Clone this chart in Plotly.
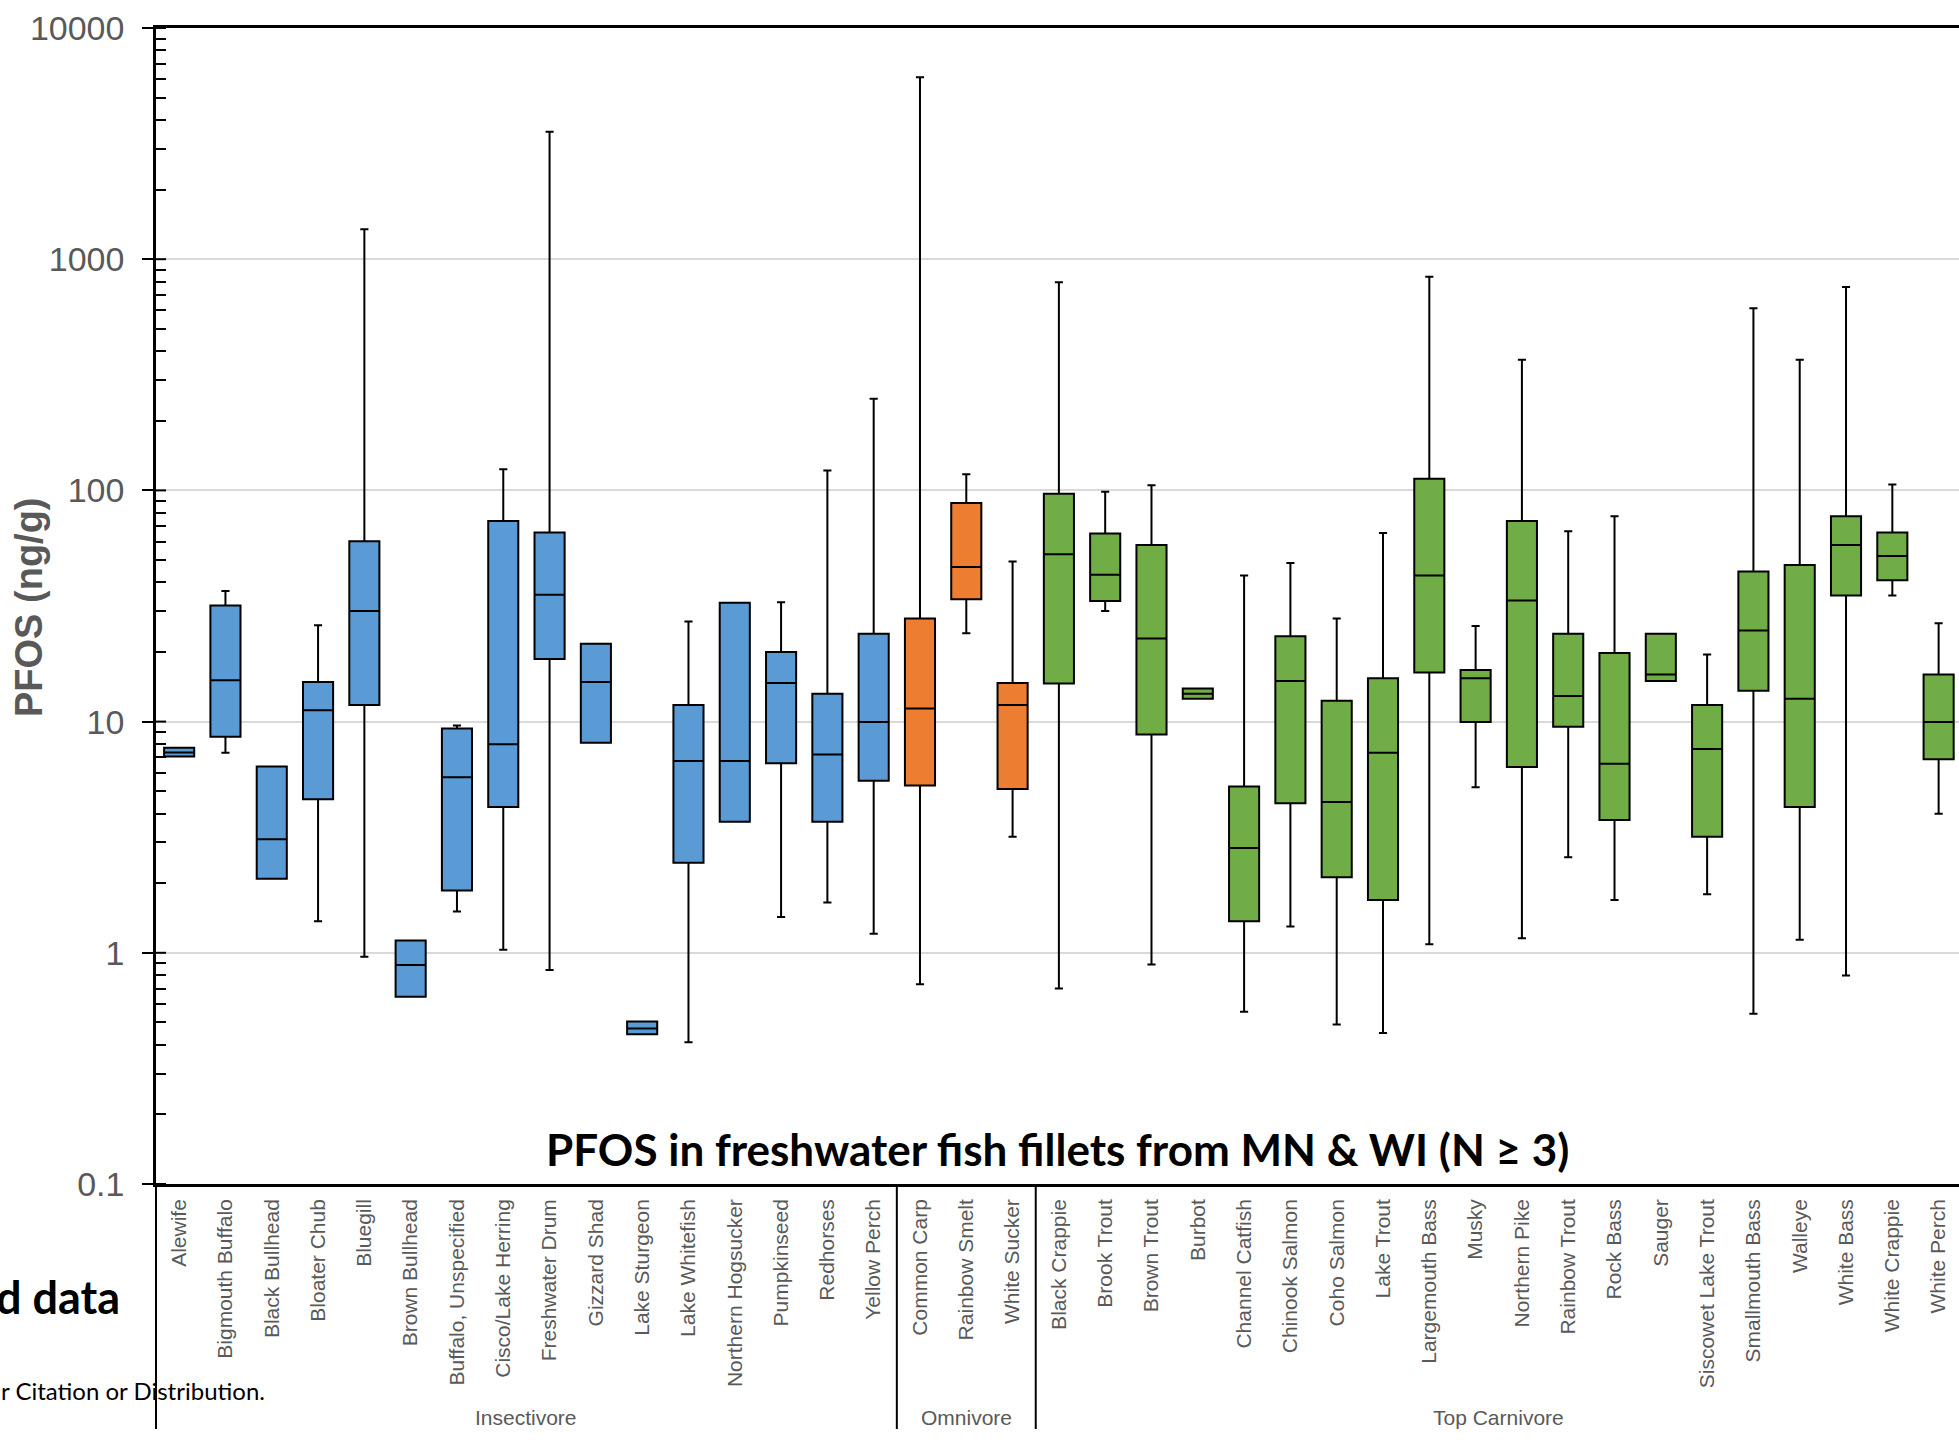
import plotly.graph_objects as go

# ---------------- data ----------------
categories = ["Alewife", "Bigmouth Buffalo", "Black Bullhead", "Bloater Chub", "Bluegill",
              "Brown Bullhead", "Buffalo, Unspecified", "Cisco/Lake Herring", "Freshwater Drum",
              "Gizzard Shad", "Lake Sturgeon", "Lake Whitefish", "Northern Hogsucker",
              "Pumpkinseed", "Redhorses", "Yellow Perch",
              "Common Carp", "Rainbow Smelt", "White Sucker",
              "Black Crappie", "Brook Trout", "Brown Trout", "Burbot", "Channel Catfish",
              "Chinook Salmon", "Coho Salmon", "Lake Trout", "Largemouth Bass", "Musky",
              "Northern Pike", "Rainbow Trout", "Rock Bass", "Sauger", "Siscowet Lake Trout",
              "Smallmouth Bass", "Walleye", "White Bass", "White Crappie", "White Perch"]
groups = ["Insectivore"] * 16 + ["Omnivore"] * 3 + ["Top Carnivore"] * 20

lower  = [7.07, 7.34, 2.09, 1.37, 0.962, 0.645, 1.51, 1.03, 0.842, 8.10, 0.444, 0.410, 3.69,
          1.43, 1.65, 1.21,
          0.731, 24.1, 3.18,
          0.701, 30.1, 0.891, 12.55, 0.556, 1.30, 0.490, 0.450, 1.09, 5.20, 1.155, 2.59, 1.69,
          14.97, 1.79, 0.545, 1.14, 0.798, 35.1, 3.99]
q1     = [7.07, 8.61, 2.09, 4.61, 11.8, 0.645, 1.86, 4.27, 18.66, 8.10, 0.444, 2.45, 3.69,
          6.60, 3.69, 5.55,
          5.29, 33.8, 5.11,
          14.6, 33.2, 8.80, 12.55, 1.37, 4.44, 2.12, 1.69, 16.3, 9.95, 6.37, 9.51, 3.75,
          14.97, 3.18, 13.6, 4.27, 35.1, 40.9, 6.88]
median = [7.36, 15.1, 3.10, 11.2, 30.1, 0.885, 5.75, 7.98, 35.4, 14.85, 0.471, 6.75, 6.75,
          14.7, 7.20, 9.95,
          11.4, 46.6, 11.8,
          52.9, 43.2, 22.9, 13.2, 2.84, 14.97, 4.49, 7.34, 42.8, 15.4, 33.4, 12.9, 6.57,
          16.0, 7.62, 24.8, 12.55, 58.0, 52.0, 9.95]
q3     = [7.71, 31.8, 6.39, 14.85, 60.3, 1.13, 9.33, 73.8, 65.8, 21.7, 0.505, 11.8, 32.7,
          20.0, 13.2, 24.0,
          27.9, 88.3, 14.7,
          96.8, 65.1, 58.0, 13.9, 5.24, 23.4, 12.3, 15.4, 112.3, 16.7, 73.8, 24.0, 19.8,
          24.0, 11.8, 44.6, 47.6, 77.3, 65.8, 15.97]
upper  = [7.71, 36.7, 6.39, 26.1, 1346, 1.13, 9.62, 123.5, 3561, 21.7, 0.505, 27.1, 32.7,
          32.8, 122, 249,
          6119, 117.5, 49.2,
          794, 98.6, 105.2, 13.9, 42.8, 48.5, 27.9, 65.4, 840, 25.9, 367, 66.6, 77.3,
          24.0, 19.5, 614, 367, 758, 106, 26.6]

group_names = ["Insectivore", "Omnivore", "Top Carnivore"]
group_colors = {"Insectivore": "#5B9BD5", "Omnivore": "#ED7D31", "Top Carnivore": "#70AD47"}
y_ticks = [0.1, 1, 10, 100, 1000, 10000]
y_tick_text = ["0.1", "1", "10", "100", "1000", "10000"]

# ---------------- figure ----------------
W, H = 1959, 1440
ML, MR, MT, MB = 156, 0, 28, 256
plot_w = W - ML - MR
plot_h = H - MT - MB

fig = go.Figure()
for g in group_names:
    idx = [i for i, gg in enumerate(groups) if gg == g]
    fig.add_trace(go.Box(
        x=[categories[i] for i in idx],
        q1=[q1[i] for i in idx],
        median=[median[i] for i in idx],
        q3=[q3[i] for i in idx],
        lowerfence=[lower[i] for i in idx],
        upperfence=[upper[i] for i in idx],
        fillcolor=group_colors[g],
        line=dict(color="black", width=2),
        whiskerwidth=0.27,
        width=0.65,
        boxpoints=False,
        showlegend=False,
        name=g,
    ))

minor_vals = [m * 10 ** e for e in range(-1, 4) for m in range(2, 10)]

fig.update_layout(
    width=W, height=H,
    margin=dict(l=ML, r=MR, t=MT, b=MB, pad=0),
    paper_bgcolor="white", plot_bgcolor="white",
    boxmode="overlay",
    font=dict(family="Liberation Sans, Arial", color="#595959"),
)
fig.update_xaxes(
    type="category", categoryorder="array", categoryarray=categories,
    range=[-0.5, 38.44],
    showline=True, linecolor="black", linewidth=2.5, mirror=True,
    ticks="", tickangle=-90, tickfont=dict(size=21, color="#595959", family="Liberation Sans, Arial"),
    ticklabelstandoff=4,
    showgrid=False, zeroline=False,
)
fig.update_yaxes(
    type="log", range=[-1, 4],
    tickvals=y_ticks, ticktext=y_tick_text,
    tickfont=dict(size=34, color="#595959", family="Liberation Sans, Arial"),
    ticks="outside", ticklen=11, tickwidth=2, tickcolor="black",
    ticklabelstandoff=11,
    showline=True, linecolor="black", linewidth=2.5,
    showgrid=True, gridcolor="#d9d9d9", gridwidth=1.5,
    minor=dict(tickvals=minor_vals, ticks="inside", ticklen=10, tickwidth=2,
               tickcolor="black", showgrid=False),
    zeroline=False,
)

shapes = []
# inside part of the major (cross) ticks
for v in y_ticks:
    shapes.append(dict(type="line", xref="paper", yref="y", x0=0, x1=10 / plot_w,
                       y0=v, y1=v, line=dict(color="black", width=2)))
# axis extension and group separators below the x axis
y_bot = -(1429 - (MT + plot_h)) / plot_h
shapes.append(dict(type="line", xref="paper", yref="paper", x0=0, x1=0, y0=0, y1=y_bot,
                   line=dict(color="black", width=2)))
for xs in [15.5, 18.5]:
    shapes.append(dict(type="line", xref="x", yref="paper", x0=xs, x1=xs, y0=0, y1=y_bot,
                       line=dict(color="black", width=2)))
fig.update_layout(shapes=shapes)

def py(full_y):
    return (MT + plot_h - full_y) / plot_h

def px(full_x):
    return (full_x - ML) / plot_w

annotations = [
    dict(text="Insectivore", xref="x", x=7.5, yref="paper", y=py(1417)),
    dict(text="Omnivore", xref="x", x=17, yref="paper", y=py(1417)),
    dict(text="Top Carnivore", xref="x", x=28.5, yref="paper", y=py(1417)),
]
for a in annotations:
    a.update(showarrow=False, xanchor="center", yanchor="middle",
             font=dict(size=21, color="#595959", family="Liberation Sans, Arial"))

annotations += [
    dict(text="<b>PFOS in freshwater fish fillets from MN &amp; WI (N ≥ 3)</b>",
         xref="paper", x=px(1057), yref="paper", y=py(1149),
         xanchor="center", yanchor="middle", showarrow=False,
         font=dict(size=44, color="black", family="Lato")),
    dict(text="<b>PFOS (ng/g)</b>", textangle=-90,
         xref="paper", x=px(29), yref="paper", y=py(607),
         xanchor="center", yanchor="middle", showarrow=False,
         font=dict(size=38, color="#595959", family="Liberation Sans, Arial")),
    dict(text="<b>d data</b>",
         xref="paper", x=px(122), yref="paper", y=py(1297),
         xanchor="right", yanchor="middle", showarrow=False,
         font=dict(size=45, color="black", family="Lato")),
    dict(text="r Citation or Distribution.",
         xref="paper", x=px(-1), yref="paper", y=py(1390),
         xanchor="left", yanchor="middle", showarrow=False,
         font=dict(size=24, color="black", family="Lato")),
]
fig.update_layout(annotations=annotations)

fig.write_html(
    "out.html",
    config={"displayModeBar": False},
    post_script="document.body.style.margin='0px';document.body.style.overflow='hidden';",
)
